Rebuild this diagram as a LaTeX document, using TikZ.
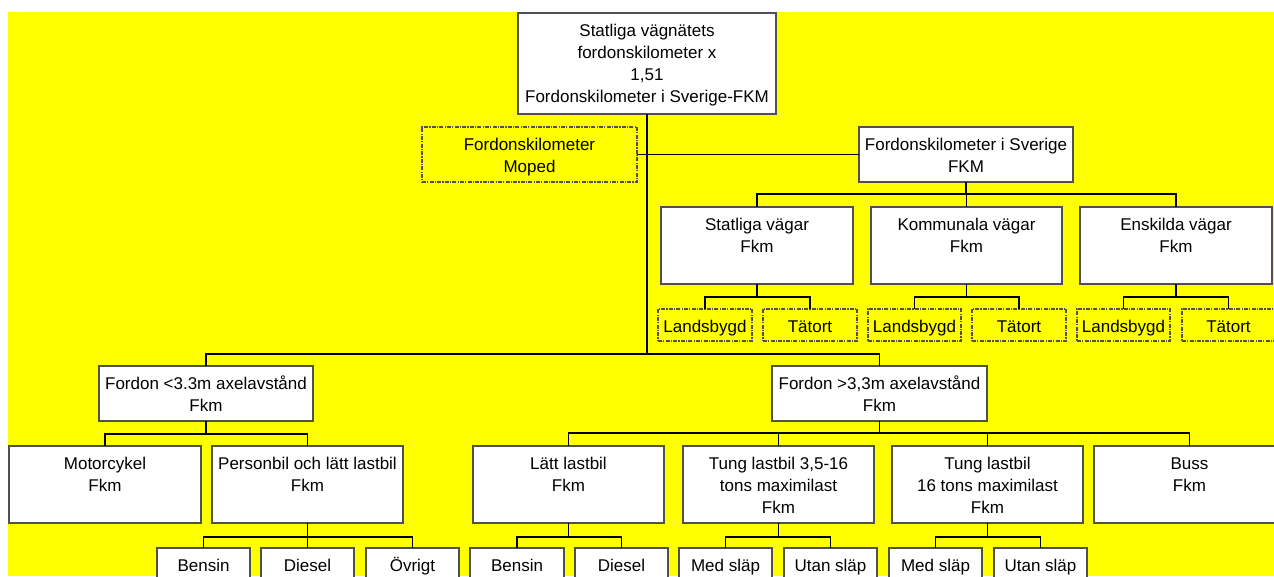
\documentclass[tikz,border=0pt]{standalone}
\usepackage{fontspec}
\setmainfont{Liberation Sans}
\definecolor{bord}{HTML}{505050}
\definecolor{ylw}{HTML}{FFFF00}
\tikzset{
  box/.style={draw=bord, fill=white, line width=1.2pt, inner sep=0pt, outer sep=0pt,
    anchor=north west, font=\fontsize{17}{22}\selectfont},
  dbox/.style={box, fill=none, dash pattern=on 4pt off 1.2pt on 1.2pt off 1.2pt},
  conn/.style={draw=black, line width=1.2pt},
}
\newcommand{\bxt}[3]{\parbox[c][#2][t]{#1}{\centering\rule{0pt}{23pt}#3}}
\begin{document}
\begin{tikzpicture}[x=1pt,y=-1pt]
\clip (0,0) rectangle (1274,576);
\fill[white] (0,0) rectangle (1274,576);
\fill[ylw] (8,12) rectangle (1274,576);

% top level
\node[box] (top) at (518,13) {\bxt{258pt}{101pt}{Statliga vägnätets\\fordonskilometer x\\1,51\\Fordonskilometer i Sverige-FKM}};
\node[dbox] (moped) at (422,127) {\bxt{215pt}{55pt}{Fordonskilometer\\Moped}};
\node[box] (fkm) at (859,127) {\bxt{214pt}{55pt}{Fordonskilometer i Sverige\\FKM}};

% roads
\node[box] (sv) at (661,207) {\bxt{192pt}{77pt}{Statliga vägar\\Fkm}};
\node[box] (kv) at (871,207) {\bxt{191pt}{77pt}{Kommunala vägar\\Fkm}};
\node[box] (ev) at (1080,207) {\bxt{192pt}{77pt}{Enskilda vägar\\Fkm}};

\node[dbox] (l1) at (658,309) {\bxt{94pt}{32pt}{Landsbygd}};
\node[dbox] (t1) at (763,309) {\bxt{94pt}{32pt}{Tätort}};
\node[dbox] (l2) at (868,309) {\bxt{93pt}{32pt}{Landsbygd}};
\node[dbox] (t2) at (972,309) {\bxt{94pt}{32pt}{Tätort}};
\node[dbox] (l3) at (1077,309) {\bxt{93pt}{32pt}{Landsbygd}};
\node[dbox] (t3) at (1182,309) {\bxt{93pt}{32pt}{Tätort}};

% vehicles
\node[box] (f1) at (99,366) {\bxt{214pt}{55pt}{Fordon <3.3m axelavstånd\\Fkm}};
\node[box] (f2) at (772,366) {\bxt{215pt}{55pt}{Fordon >3,3m axelavstånd\\Fkm}};

\node[box] (mc) at (9,446) {\bxt{192pt}{77pt}{Motorcykel\\Fkm}};
\node[box] (pb) at (212,446) {\bxt{191pt}{77pt}{Personbil och lätt lastbil\\Fkm}};
\node[box] (ll) at (473,446) {\bxt{191pt}{77pt}{Lätt lastbil\\Fkm}};
\node[box] (tl1) at (683,446) {\bxt{191pt}{77pt}{Tung lastbil 3,5-16\\tons maximilast\\Fkm}};
\node[box] (tl2) at (892,446) {\bxt{191pt}{77pt}{Tung lastbil\\16 tons maximilast\\Fkm}};
\node[box] (bu) at (1094,446) {\bxt{191pt}{77pt}{Buss\\Fkm}};

% leaves
\node[box] (pbB) at (157,548) {\bxt{93pt}{40pt}{Bensin}};
\node[box] (pbD) at (261,548) {\bxt{93pt}{40pt}{Diesel}};
\node[box] (pbO) at (366,548) {\bxt{93pt}{40pt}{Övrigt}};
\node[box] (llB) at (470,548) {\bxt{94pt}{40pt}{Bensin}};
\node[box] (llD) at (575,548) {\bxt{93pt}{40pt}{Diesel}};
\node[box] (tl1M) at (679,548) {\bxt{93pt}{40pt}{Med släp}};
\node[box] (tl1U) at (784,548) {\bxt{93pt}{40pt}{Utan släp}};
\node[box] (tl2M) at (889,548) {\bxt{93pt}{40pt}{Med släp}};
\node[box] (tl2U) at (994,548) {\bxt{93pt}{40pt}{Utan släp}};

% connectors
\coordinate (jtrunk) at (top.south |- 0,354);
\draw[conn] (top.south) -- (jtrunk);
\draw[conn] (f1.north) |- (jtrunk);
\draw[conn] (f2.north) |- (jtrunk);
\draw[conn] (moped.east) -- (fkm.west);

\draw[conn] (fkm.south) -- ++(0,12) -| (sv.north);
\draw[conn] (fkm.south) -- ++(0,12) -| (kv.north);
\draw[conn] (fkm.south) -- ++(0,12) -| (ev.north);

\foreach \p/\a/\b in {sv/l1/t1, kv/l2/t2, ev/l3/t3}{
  \draw[conn] (\p.south) -- ++(0,13) -| (\a.north);
  \draw[conn] (\p.south) -- ++(0,13) -| (\b.north);
}

\draw[conn] (f1.south) -- ++(0,13) -| (mc.north);
\draw[conn] (f1.south) -- ++(0,13) -| (pb.north);
\foreach \c in {ll,tl1,tl2,bu}{
  \draw[conn] (f2.south) -- ++(0,12) -| (\c.north);
}

\foreach \c in {pbB,pbD,pbO}{
  \draw[conn] (pb.south) -- ++(0,14) -| (\c.north);
}
\foreach \c in {llB,llD}{
  \draw[conn] (ll.south) -- ++(0,14) -| (\c.north);
}
\foreach \c in {tl1M,tl1U}{
  \draw[conn] (tl1.south) -- ++(0,14) -| (\c.north);
}
\foreach \c in {tl2M,tl2U}{
  \draw[conn] (tl2.south) -- ++(0,14) -| (\c.north);
}
\end{tikzpicture}
\end{document}
